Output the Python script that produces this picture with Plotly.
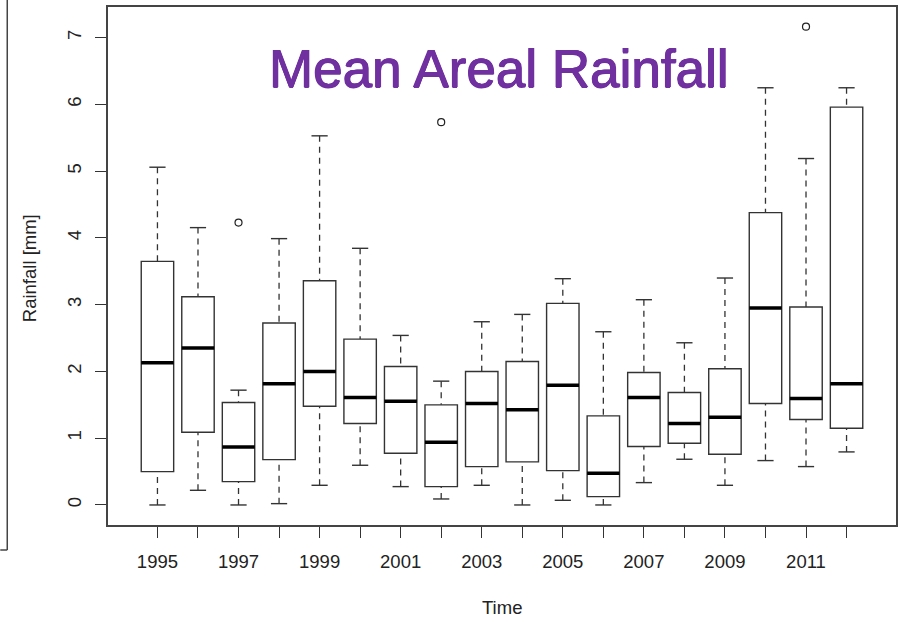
import plotly.graph_objects as go

years = list(range(1995, 2013))
q1 = [0.50, 1.09, 0.35, 0.68, 1.48, 1.22, 0.775, 0.275, 0.575, 0.645, 0.515, 0.125, 0.875, 0.925, 0.76, 1.52, 1.28, 1.15]
median = [2.13, 2.35, 0.87, 1.815, 2.00, 1.61, 1.555, 0.94, 1.52, 1.425, 1.795, 0.475, 1.61, 1.22, 1.315, 2.95, 1.595, 1.815]
q3 = [3.65, 3.12, 1.535, 2.725, 3.36, 2.485, 2.075, 1.50, 2.00, 2.15, 3.02, 1.335, 1.985, 1.685, 2.04, 4.38, 2.965, 5.96]
lower = [0.00, 0.22, 0.00, 0.02, 0.295, 0.595, 0.275, 0.09, 0.295, 0.00, 0.07, 0.00, 0.335, 0.685, 0.295, 0.665, 0.575, 0.795]
upper = [5.06, 4.155, 1.72, 3.99, 5.53, 3.845, 2.54, 1.855, 2.745, 2.855, 3.39, 2.595, 3.075, 2.43, 3.40, 6.25, 5.19, 6.25]
outlier_years = [1997, 2002, 2011]
outlier_values = [4.23, 5.735, 7.165]
tick_text = [str(y) if y % 2 == 1 else "" for y in years]

BOX_W = 0.8
CAP_W = 0.4
FONT = "Liberation Sans, Arial, sans-serif"
INK = "#222222"
TITLE_COLOR = "#7030A0"

fig = go.Figure()

# boxes (whiskers drawn separately to get R-style dashed whiskers)
fig.add_trace(go.Box(
    x=years, q1=q1, median=median, q3=q3,
    lowerfence=q1, upperfence=q3,
    width=BOX_W, whiskerwidth=0,
    fillcolor="white", line=dict(color="#333333", width=1.4),
    boxpoints=False, showlegend=False, hoverinfo="skip",
))

# dashed whiskers (drawn from whisker end toward the box, as R does)
wx, wy = [], []
for x, a, b, c, d in zip(years, lower, q1, q3, upper):
    wx += [x, x, None, x, x, None]
    wy += [a, b, None, d, c, None]
fig.add_trace(go.Scatter(x=wx, y=wy, mode="lines",
                         line=dict(color="#333333", width=1.3, dash="6px,5px"),
                         showlegend=False, hoverinfo="skip"))

# whisker caps
cx, cy = [], []
for x, a, d in zip(years, lower, upper):
    cx += [x - CAP_W / 2, x + CAP_W / 2, None, x - CAP_W / 2, x + CAP_W / 2, None]
    cy += [a, a, None, d, d, None]
fig.add_trace(go.Scatter(x=cx, y=cy, mode="lines",
                         line=dict(color="#333333", width=1.4),
                         showlegend=False, hoverinfo="skip"))

# thick medians
mx, my = [], []
for x, m in zip(years, median):
    mx += [x - BOX_W / 2, x + BOX_W / 2, None]
    my += [m, m, None]
fig.add_trace(go.Scatter(x=mx, y=my, mode="lines",
                         line=dict(color="black", width=3.5),
                         showlegend=False, hoverinfo="skip"))

# outliers
fig.add_trace(go.Scatter(x=outlier_years, y=outlier_values, mode="markers",
                         marker=dict(symbol="circle-open", size=7, color="#222222",
                                     line=dict(width=1.2)),
                         showlegend=False, hoverinfo="skip"))

title_shadow = (f"0.6px 0 0 {TITLE_COLOR}, -0.6px 0 0 {TITLE_COLOR}, "
                f"0 0.5px 0 {TITLE_COLOR}, 0 -0.3px 0 {TITLE_COLOR}")

fig.update_layout(
    width=900, height=622,
    margin=dict(l=108, r=2, t=7, b=97),
    paper_bgcolor="white", plot_bgcolor="white",
    font=dict(family=FONT, size=18.5, color=INK),
    xaxis=dict(range=[1993.78, 2013.22], tickvals=years, ticktext=tick_text,
               ticks="outside", ticklen=11, tickwidth=1.3, tickcolor="#333333",
               showline=True, mirror=True, linecolor="#444444", linewidth=1.5,
               showgrid=False, zeroline=False, ticklabelstandoff=8),
    yaxis=dict(range=[-0.30, 7.46], tickvals=[0, 1, 2, 3, 4, 5, 6, 7],
               ticks="outside", ticklen=11, tickwidth=1.3, tickcolor="#333333",
               tickangle=-90,
               showline=True, mirror=True, linecolor="#444444", linewidth=1.5,
               showgrid=False, zeroline=False, ticklabelstandoff=7),
    annotations=[
        dict(text="Mean Areal Rainfall", xref="paper", yref="paper",
             x=0.496, y=0.882, xanchor="center", yanchor="middle", showarrow=False,
             font=dict(family=FONT, size=53, color=TITLE_COLOR, shadow=title_shadow)),
        dict(text="Rainfall [mm]", xref="paper", yref="paper",
             x=(29 - 108) / 790, y=(525 - 268) / 518, xanchor="center", yanchor="middle",
             textangle=-90, showarrow=False, font=dict(size=18.5, color=INK)),
        dict(text="Time", xref="paper", yref="paper",
             x=(503 - 108) / 790, y=(525 - 607) / 518, xanchor="center", yanchor="middle",
             showarrow=False, font=dict(size=18.5, color=INK)),
    ],
    shapes=[
        dict(type="line", xref="paper", yref="paper",
             x0=(7 - 108) / 790, x1=(7 - 108) / 790, y0=(525 - 550) / 518, y1=(525 + 2) / 518,
             line=dict(color="#444444", width=1.5)),
        dict(type="line", xref="paper", yref="paper",
             x0=(0 - 108) / 790, x1=(7 - 108) / 790, y0=(525 - 550) / 518, y1=(525 - 550) / 518,
             line=dict(color="#444444", width=1.5)),
    ],
)

fig.write_html("out.html")
